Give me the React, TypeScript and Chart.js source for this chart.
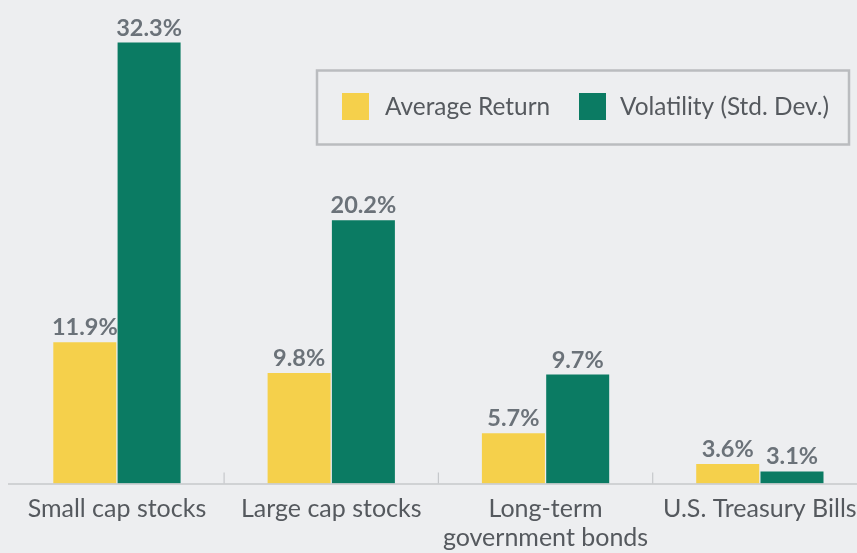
import React, { useEffect, useRef } from "react";
import { Chart, registerables } from "chart.js";

Chart.register(...registerables);

const categories: string[][] = [
  ["Small cap stocks"],
  ["Large cap stocks"],
  ["Long-term", "government bonds"],
  ["U.S. Treasury Bills"],
];
const averageReturn = [11.9, 9.8, 5.7, 3.6];
const volatility = [32.3, 20.2, 9.7, 3.1];
const seriesNames = ["Average Return", "Volatility (Std. Dev.)"];
const seriesColors = ["#f5d04b", "#0b7b63"];

const BG = "#edeef0";
const FONT = "Lato, 'Open Sans', sans-serif";
const TEXT = "#55595e";
const LABEL = "#6b7279";

const bgPlugin = {
  id: "bg",
  beforeDraw(chart: any) {
    const { ctx, width, height } = chart;
    ctx.save();
    ctx.fillStyle = BG;
    ctx.fillRect(0, 0, width, height);
    ctx.restore();
  },
};

const axisPlugin = {
  id: "axisLine",
  afterDatasetsDraw(chart: any) {
    const { ctx, chartArea } = chart;
    const xs = chart.scales.x;
    ctx.save();
    ctx.strokeStyle = "#c6c8cb";
    ctx.lineWidth = 1.5;
    ctx.beginPath();
    ctx.moveTo(8, chartArea.bottom + 0.5);
    ctx.lineTo(chart.width, chartArea.bottom + 0.5);
    ctx.stroke();
    ctx.lineWidth = 1.2;
    for (let i = 1; i < categories.length; i++) {
      const x = (xs.getPixelForValue(i - 1) + xs.getPixelForValue(i)) / 2;
      ctx.beginPath();
      ctx.moveTo(x, chartArea.bottom - 11);
      ctx.lineTo(x, chartArea.bottom);
      ctx.stroke();
    }
    ctx.restore();
  },
};

const valuePlugin = {
  id: "valueLabels",
  afterDatasetsDraw(chart: any) {
    const { ctx } = chart;
    ctx.save();
    ctx.font = `bold 23.5px ${FONT}`;
    ctx.fillStyle = LABEL;
    ctx.textAlign = "center";
    ctx.textBaseline = "alphabetic";
    chart.data.datasets.forEach((ds: any, di: number) => {
      const meta = chart.getDatasetMeta(di);
      meta.data.forEach((bar: any, i: number) => {
        ctx.fillText(`${ds.data[i].toFixed(1)}%`, bar.x, bar.y - 7);
      });
    });
    ctx.restore();
  },
};

const legendPlugin = {
  id: "boxLegend",
  afterDraw(chart: any) {
    const { ctx } = chart;
    ctx.save();
    ctx.strokeStyle = "#babcbf";
    ctx.lineWidth = 2.5;
    ctx.strokeRect(317, 70.5, 532, 74);
    const items = [
      { sq: 342, tx: 385 },
      { sq: 579, tx: 620 },
    ];
    ctx.font = `24.4px ${FONT}`;
    ctx.textBaseline = "middle";
    ctx.textAlign = "left";
    chart.data.datasets.forEach((ds: any, i: number) => {
      const it = items[i];
      ctx.fillStyle = ds.backgroundColor;
      ctx.fillRect(it.sq, 93, 27, 27);
      ctx.fillStyle = TEXT;
      ctx.fillText(ds.label, it.tx, 107);
    });
    ctx.restore();
  },
};

export default function App() {
  const ref = useRef<HTMLCanvasElement | null>(null);
  useEffect(() => {
    document.body.style.margin = "0";
    document.body.style.background = BG;
    if (!ref.current) return;
    const chart = new Chart(ref.current, {
      type: "bar",
      data: {
        labels: categories,
        datasets: [
          {
            label: seriesNames[0],
            data: averageReturn,
            backgroundColor: seriesColors[0],
            categoryPercentage: 0.6,
            barPercentage: 0.98,
          },
          {
            label: seriesNames[1],
            data: volatility,
            backgroundColor: seriesColors[1],
            categoryPercentage: 0.6,
            barPercentage: 0.98,
          },
        ],
      },
      options: {
        responsive: false,
        animation: false,
        layout: { padding: { left: 9.8, right: 3, top: 0, bottom: 0 } },
        plugins: {
          legend: { display: false },
          tooltip: { enabled: false },
        },
        scales: {
          x: {
            grid: { display: false, drawTicks: false },
            border: { display: false },
            ticks: {
              color: TEXT,
              font: { family: FONT, size: 25, lineHeight: 1.16 },
              padding: 11,
              maxRotation: 0,
              autoSkip: false,
            },
            afterFit: (scale: any) => {
              scale.height = 69.5;
            },
          },
          y: {
            display: false,
            min: 2.28,
            max: 35.2,
          },
        },
      },
      plugins: [bgPlugin, axisPlugin, valuePlugin, legendPlugin],
    });
    return () => chart.destroy();
  }, []);
  return (
    <div
      style={{
        position: "absolute",
        left: 0,
        top: 0,
        width: 857,
        height: 553,
        overflow: "hidden",
        background: BG,
      }}
    >
      <canvas ref={ref} width={870} height={553} style={{ width: 870, height: 553, display: "block" }} />
    </div>
  );
}
